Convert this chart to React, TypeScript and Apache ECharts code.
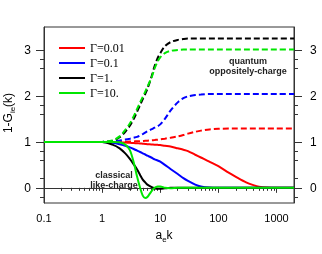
import React, { useEffect, useRef } from "react";
import * as echarts from "echarts";

// k grid (x values, a_e k)
const kValues = [0.1, 0.5, 1, 1.5, 2, 2.5, 3, 3.5, 4, 4.5, 5, 5.5, 6, 7, 8, 9, 10, 12, 15, 20, 25, 30, 40, 50, 70, 100, 150, 200, 300, 400, 500, 700, 1000, 2000];

// classical like-charge (solid)
const red001Solid = [1, 1, 1, 0.995, 0.99, 0.985, 0.98, 0.975, 0.97, 0.965, 0.96, 0.955, 0.95, 0.945, 0.94, 0.935, 0.93, 0.915, 0.9, 0.86, 0.83, 0.8, 0.72, 0.66, 0.57, 0.47, 0.33, 0.24, 0.12, 0.06, 0.025, 0.005, 0, 0];
const blue01Solid = [1, 1, 1, 0.98, 0.95, 0.915, 0.88, 0.845, 0.81, 0.78, 0.75, 0.725, 0.7, 0.66, 0.62, 0.595, 0.57, 0.5, 0.41, 0.3, 0.21, 0.15, 0.07, 0.03, 0.005, 0, 0, 0, 0, 0, 0, 0, 0, 0];
const black1Solid = [1, 1, 1, 0.94, 0.86, 0.75, 0.63, 0.51, 0.4, 0.28, 0.18, 0.12, 0.07, 0.02, -0.01, -0.02, -0.02, -0.01, 0, 0, 0, 0, 0, 0, 0, 0, 0, 0, 0, 0, 0, 0, 0, 0];
const green10Solid = [1, 1, 1, 1, 0.99, 0.94, 0.82, 0.55, 0.24, 0.0, -0.17, -0.22, -0.2, -0.08, 0.0, 0.03, 0.03, 0.0, -0.01, 0, 0, 0, 0, 0, 0, 0, 0, 0, 0, 0, 0, 0, 0, 0];

// quantum oppositely-charge (dashed)
const red001Dashed = [1, 1, 1, 1, 1.002, 1.004, 1.007, 1.01, 1.013, 1.016, 1.02, 1.023, 1.027, 1.034, 1.041, 1.048, 1.055, 1.07, 1.09, 1.12, 1.15, 1.18, 1.22, 1.245, 1.27, 1.285, 1.29, 1.29, 1.29, 1.29, 1.29, 1.29, 1.29, 1.29];
const blue01Dashed = [1, 1, 1, 1.01, 1.03, 1.05, 1.07, 1.09, 1.11, 1.14, 1.17, 1.2, 1.23, 1.27, 1.31, 1.34, 1.38, 1.5, 1.68, 1.86, 1.95, 1.99, 2.02, 2.03, 2.04, 2.04, 2.04, 2.04, 2.04, 2.04, 2.04, 2.04, 2.04, 2.04];
const black1Dashed = [1, 1, 1, 1.02, 1.1, 1.22, 1.35, 1.5, 1.66, 1.8, 1.93, 2.04, 2.15, 2.4, 2.65, 2.82, 2.93, 3.08, 3.17, 3.22, 3.24, 3.25, 3.25, 3.25, 3.25, 3.25, 3.25, 3.25, 3.25, 3.25, 3.25, 3.25, 3.25, 3.25];
const green10Dashed = [1, 1, 1, 1.03, 1.12, 1.26, 1.4, 1.56, 1.72, 1.86, 1.98, 2.09, 2.2, 2.38, 2.6, 2.75, 2.84, 2.93, 2.98, 3.0, 3.01, 3.01, 3.01, 3.01, 3.01, 3.01, 3.01, 3.01, 3.01, 3.01, 3.01, 3.01, 3.01, 3.01];

const legendNames = ["Γ=0.01", "Γ=0.1", "Γ=1.", "Γ=10."];
const colors = ["#ff0000", "#0000ff", "#000000", "#00e600"];

const xMajorTicks = [0.1, 1, 10, 100, 1000];
const xMinorTicks = [0.2, 0.3, 0.4, 0.5, 0.6, 0.7, 0.8, 0.9, 2, 3, 4, 5, 6, 7, 8, 9, 20, 30, 40, 50, 60, 70, 80, 90, 200, 300, 400, 500, 600, 700, 800, 900];
const yMajorTicks = [0, 1, 2, 3];
const yMinorTicks = [-0.2, 0.2, 0.6, 0.8, 1.6, 1.8, 2.6, 2.8];

const SANS = "'Liberation Sans', Arial, sans-serif";
const SERIF = "'Liberation Serif', 'Times New Roman', serif";

function pairs(vals: number[]) {
  return kValues.map((k, i) => [k, vals[i]]);
}

export default function App() {
  const ref = useRef<HTMLDivElement>(null);
  useEffect(() => {
    if (!ref.current) return;
    const chart = echarts.init(ref.current, undefined, { renderer: "svg" });
    const dashedSets = [red001Dashed, blue01Dashed, black1Dashed, green10Dashed];
    const solidSets = [red001Solid, blue01Solid, black1Solid, green10Solid];
    const series: any[] = [];
    for (let i = 0; i < 4; i++) {
      series.push({
        type: "line",
        name: legendNames[i] + " q",
        data: pairs(dashedSets[i]),
        symbol: "none",
        smooth: 0.3,
        lineStyle: { color: colors[i], width: 2, type: [6, 3] },
        itemStyle: { color: colors[i] },
        z: 2 + i * 2,
      });
      series.push({
        type: "line",
        name: legendNames[i],
        data: pairs(solidSets[i]),
        symbol: "none",
        smooth: 0.3,
        lineStyle: { color: colors[i], width: 2 },
        itemStyle: { color: colors[i] },
        z: 3 + i * 2,
      });
    }
    const yBase = { type: "value", min: -0.33, max: 3.5, splitLine: { show: false } };
    const option: any = {
      animation: false,
      grid: { left: 44, right: 28, top: 27, bottom: 51, show: true, borderColor: "#333", borderWidth: 1 },
      legend: {
        data: legendNames,
        orient: "vertical",
        left: 54,
        top: 36,
        icon: "rect",
        itemWidth: 26,
        itemHeight: 2,
        itemGap: 1,
        textStyle: { fontFamily: SERIF, fontSize: 12, color: "#000", lineHeight: 14 },
      },
      xAxis: [
        {
          type: "log",
          logBase: 10,
          min: 0.1,
          max: 2000,
          axisLine: { show: true, lineStyle: { color: "#333" } },
          axisTick: { show: true, length: 5, customValues: xMajorTicks, lineStyle: { color: "#333" } },
          axisLabel: {
            customValues: xMajorTicks,
            fontFamily: SANS,
            fontSize: 11,
            color: "#000",
            margin: 9,
            formatter: (v: number) => (v < 1 ? String(Math.round(v * 10) / 10) : String(Math.round(v))),
          },
          splitLine: { show: false },
        },
        {
          type: "log",
          logBase: 10,
          min: 0.1,
          max: 2000,
          position: "bottom",
          axisLine: { show: false },
          axisTick: { show: true, length: 3, customValues: xMinorTicks, lineStyle: { color: "#333" } },
          axisLabel: { show: false },
          splitLine: { show: false },
        },
      ],
      yAxis: [
        {
          ...yBase,
          position: "left",
          axisLine: { show: true, lineStyle: { color: "#333" } },
          axisTick: { show: true, length: 8, customValues: yMajorTicks, lineStyle: { color: "#333" } },
          axisLabel: { customValues: yMajorTicks, fontFamily: SANS, fontSize: 12, color: "#000", margin: 13 },
        },
        {
          ...yBase,
          position: "right",
          axisLine: { show: true, lineStyle: { color: "#333" } },
          axisTick: { show: true, length: 8, customValues: yMajorTicks, lineStyle: { color: "#333" } },
          axisLabel: { customValues: yMajorTicks, fontFamily: SANS, fontSize: 12, color: "#000", margin: 16 },
        },
        {
          ...yBase,
          position: "left",
          axisLine: { show: false },
          axisTick: { show: true, length: 4, customValues: yMinorTicks, lineStyle: { color: "#333" } },
          axisLabel: { show: false },
        },
        {
          ...yBase,
          position: "right",
          axisLine: { show: false },
          axisTick: { show: true, length: 4, customValues: yMinorTicks, lineStyle: { color: "#333" } },
          axisLabel: { show: false },
        },
      ],
      series,
      graphic: [
        {
          type: "text",
          x: 248,
          y: 66,
          z: 100,
          style: {
            text: "quantum\noppositely-charge",
            fill: "#222",
            font: "bold 9px " + SANS,
            align: "center",
            verticalAlign: "middle",
            lineHeight: 10,
          },
        },
        {
          type: "text",
          x: 114,
          y: 179.5,
          z: 100,
          style: {
            text: "classical\nlike-charge",
            fill: "#222",
            font: "bold 9px " + SANS,
            align: "center",
            verticalAlign: "middle",
            lineHeight: 10,
          },
        },
        {
          type: "text",
          x: 164,
          y: 236,
          z: 100,
          style: {
            text: "{n|a}{s|e}{n|k}",
            align: "center",
            verticalAlign: "middle",
            rich: {
              n: { fontFamily: SANS, fontSize: 12, fill: "#000", lineHeight: 14, verticalAlign: "top" },
              s: { fontFamily: SANS, fontSize: 8, fill: "#000", lineHeight: 8, padding: [8, 0, 0, 0], verticalAlign: "bottom" },
            },
          },
        },
        {
          type: "text",
          x: 9,
          y: 113,
          rotation: Math.PI / 2,
          z: 100,
          style: {
            text: "{n|1-G}{s|ie}{n|(k)}",
            align: "center",
            verticalAlign: "middle",
            rich: {
              n: { fontFamily: SANS, fontSize: 12, fill: "#000", lineHeight: 14, verticalAlign: "top" },
              s: { fontFamily: SANS, fontSize: 8, fill: "#000", lineHeight: 8, padding: [8, 0, 0, 0], verticalAlign: "bottom" },
            },
          },
        },
      ],
    };
    chart.setOption(option);
    return () => chart.dispose();
  }, []);
  return <div ref={ref} style={{ position: "fixed", left: 0, top: 0, width: 322, height: 254 }} />;
}
